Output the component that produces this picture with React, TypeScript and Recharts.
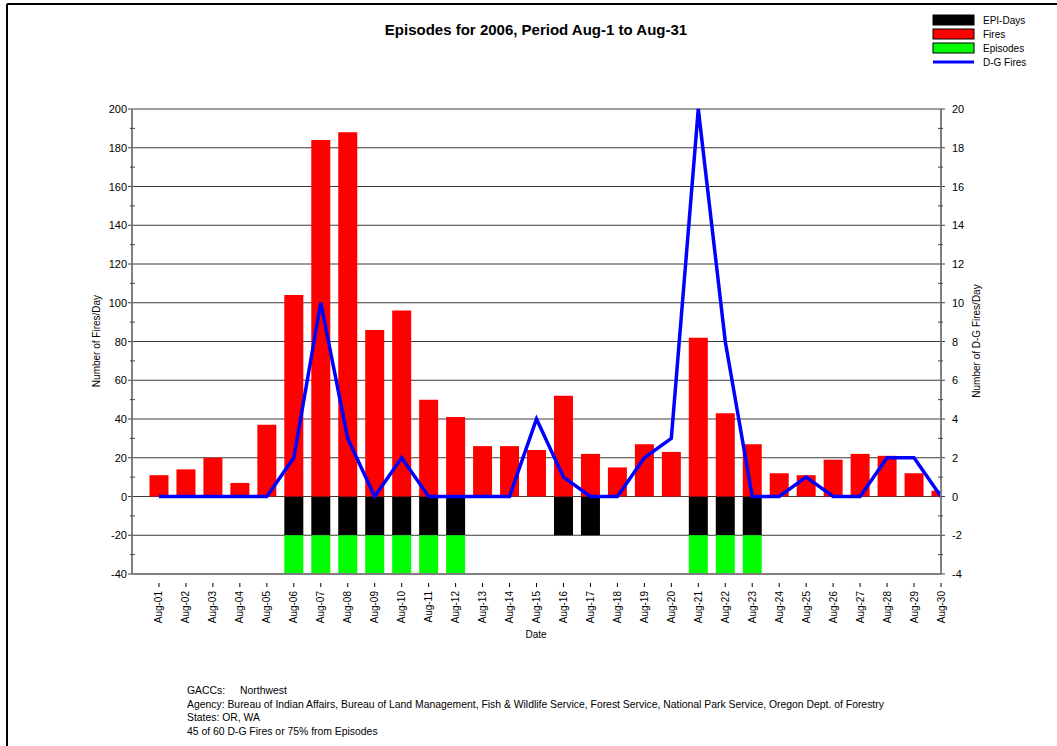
import React from 'react';
import { ComposedChart, Bar, Line, XAxis, YAxis, CartesianGrid } from 'recharts';

const days = [
  'Aug-01', 'Aug-02', 'Aug-03', 'Aug-04', 'Aug-05', 'Aug-06', 'Aug-07', 'Aug-08', 'Aug-09', 'Aug-10',
  'Aug-11', 'Aug-12', 'Aug-13', 'Aug-14', 'Aug-15', 'Aug-16', 'Aug-17', 'Aug-18', 'Aug-19', 'Aug-20',
  'Aug-21', 'Aug-22', 'Aug-23', 'Aug-24', 'Aug-25', 'Aug-26', 'Aug-27', 'Aug-28', 'Aug-29', 'Aug-30',
];
const fires = [11, 14, 20, 7, 37, 104, 184, 188, 86, 96, 50, 41, 26, 26, 24, 52, 22, 15, 27, 23, 82, 43, 27, 12, 11, 19, 22, 21, 12, 3];
const dgFires = [0, 0, 0, 0, 0, 2, 10, 3, 0, 2, 0, 0, 0, 0, 4, 1, 0, 0, 2, 3, 20, 8, 0, 0, 1, 0, 0, 2, 2, 0];
const epiDays = [null, null, null, null, null, -20, -20, -20, -20, -20, -20, -20, null, null, null, -20, -20, null, null, null, -20, -20, -20, null, null, null, null, null, null, null];
const episodes = [null, null, null, null, null, -20, -20, -20, -20, -20, -20, -20, null, null, null, null, null, null, null, null, -20, -20, -20, null, null, null, null, null, null, null];

const leftTicks = [-40, -30, -20, -10, 0, 10, 20, 30, 40, 50, 60, 70, 80, 90, 100, 110, 120, 130, 140, 150, 160, 170, 180, 190, 200];
const rightTicks = [-4, -3, -2, -1, 0, 1, 2, 3, 4, 5, 6, 7, 8, 9, 10, 11, 12, 13, 14, 15, 16, 17, 18, 19, 20];
const gridValues = [-20, 0, 20, 40, 60, 80, 100, 120, 140, 160, 180, 200];
const xTicks = days.map((_, i) => i + 1);

const data = days.map((d, i) => ({
  x: i + 1,
  label: d,
  fires: fires[i],
  dg: dgFires[i],
  epi: epiDays[i],
  episodes: episodes[i],
}));

const FONT = '"Liberation Sans", Arial, sans-serif';
const AXIS = '#808080';

const LeftTick = (props: any) => {
  const { x, y, payload } = props;
  const v = payload.value;
  const major = v % 20 === 0;
  return (
    <g>
      {major ? (
        <line x1={x - 4} x2={x} y1={y} y2={y} stroke="#444" strokeWidth={1} />
      ) : (
        <line x1={x - 2} x2={x + 3} y1={y} y2={y} stroke="#444" strokeWidth={1} />
      )}
      {major && (
        <text x={x - 5} y={y} dy={4} textAnchor="end" fontSize={11} fill="#000" fontFamily={FONT}>
          {v}
        </text>
      )}
    </g>
  );
};

const RightTick = (props: any) => {
  const { x, y, payload } = props;
  const v = payload.value;
  const major = v % 2 === 0;
  return (
    <g>
      {major ? (
        <line x1={x} x2={x + 4} y1={y} y2={y} stroke="#444" strokeWidth={1} />
      ) : (
        <line x1={x - 3} x2={x + 2} y1={y} y2={y} stroke="#444" strokeWidth={1} />
      )}
      {major && (
        <text x={x + 11} y={y} dy={4} textAnchor="start" fontSize={11} fill="#000" fontFamily={FONT}>
          {v}
        </text>
      )}
    </g>
  );
};

const BottomTick = (props: any) => {
  const { x, y, payload } = props;
  const label = days[payload.value - 1] ?? '';
  return (
    <g>
      <line x1={x} x2={x} y1={y + 9} y2={y + 13} stroke="#000" strokeWidth={1} />
      <text
        transform={`translate(${x},${y + 17}) rotate(-90)`}
        dy={3.5}
        textAnchor="end"
        fontSize={10}
        fill="#000"
        fontFamily={FONT}
      >
        {label}
      </text>
    </g>
  );
};

const legendItems = [
  { name: 'EPI-Days', color: '#000000', kind: 'rect' },
  { name: 'Fires', color: '#FF0000', kind: 'rect' },
  { name: 'Episodes', color: '#00FF00', kind: 'rect' },
  { name: 'D-G Fires', color: '#0000FF', kind: 'line' },
];

export default function App() {
  return (
    <div style={{ position: 'absolute', left: 0, top: 0, width: 1057, height: 746, background: '#fff' }}>
      <ComposedChart
        width={1057}
        height={746}
        data={data}
        stackOffset="sign"
        margin={{ top: 109, right: 76, bottom: 112, left: 92 }}
      >
        <CartesianGrid
          yAxisId="left"
          vertical={false}
          horizontalValues={gridValues}
          stroke="#3a3a3a"
          strokeWidth={1}
        />
        <XAxis
          dataKey="x"
          type="number"
          domain={[0, 30]}
          ticks={xTicks}
          interval={0}
          allowDataOverflow
          height={60}
          tickSize={0}
          tickMargin={0}
          tickLine={false}
          tick={<BottomTick />}
          axisLine={{ stroke: AXIS, strokeWidth: 2 }}
        />
        <YAxis
          yAxisId="left"
          orientation="left"
          domain={[-40, 200]}
          ticks={leftTicks}
          interval={0}
          width={40}
          tickSize={0}
          tickMargin={0}
          tickLine={false}
          tick={<LeftTick />}
          axisLine={{ stroke: AXIS, strokeWidth: 2 }}
        />
        <YAxis
          yAxisId="right"
          orientation="right"
          domain={[-4, 20]}
          ticks={rightTicks}
          interval={0}
          width={40}
          tickSize={0}
          tickMargin={0}
          tickLine={false}
          tick={<RightTick />}
          axisLine={{ stroke: AXIS, strokeWidth: 2 }}
        />
        <Bar dataKey="epi" name="EPI-Days" yAxisId="left" stackId="s" fill="#000000" barSize={19} isAnimationActive={false} />
        <Bar dataKey="fires" name="Fires" yAxisId="left" stackId="s" fill="#FF0000" barSize={19} isAnimationActive={false} />
        <Bar dataKey="episodes" name="Episodes" yAxisId="left" stackId="s" fill="#00FF00" barSize={19} isAnimationActive={false} />
        <Line
          dataKey="dg"
          name="D-G Fires"
          yAxisId="right"
          type="linear"
          stroke="#0000FF"
          strokeWidth={3.5}
          dot={false}
          activeDot={false}
          isAnimationActive={false}
        />
      </ComposedChart>
      <svg
        width={1057}
        height={746}
        style={{ position: 'absolute', left: 0, top: 0, pointerEvents: 'none' }}
        fontFamily={FONT}
      >
        <line x1={7} x2={1057} y1={4} y2={4} stroke="#000" strokeWidth={2} />
        <line x1={7} x2={7} y1={4} y2={746} stroke="#000" strokeWidth={2} />
        <text x={536} y={35} textAnchor="middle" fontSize={15} fontWeight="bold" fill="#000">
          Episodes for 2006, Period Aug-1 to Aug-31
        </text>
        {legendItems.map((it, i) => {
          const top = 15 + i * 14;
          return (
            <g key={it.name}>
              {it.kind === 'rect' ? (
                <rect x={933} y={top} width={41} height={10} fill={it.color} stroke="#000" strokeWidth={1} />
              ) : (
                <line x1={933} x2={974} y1={top + 5} y2={top + 5} stroke={it.color} strokeWidth={3} />
              )}
              <text x={983} y={top + 9} fontSize={10} fill="#000">
                {it.name}
              </text>
            </g>
          );
        })}
        <text transform="translate(100,341) rotate(-90)" textAnchor="middle" fontSize={10} fill="#000">
          Number of Fires/Day
        </text>
        <text transform="translate(980,341) rotate(-90)" textAnchor="middle" fontSize={10} fill="#000">
          Number of D-G Fires/Day
        </text>
        <text x={536} y={638} textAnchor="middle" fontSize={10} fill="#000">
          Date
        </text>
        <text x={187} y={694} fontSize={10.4} fill="#000">GACCs:</text>
        <text x={240} y={694} fontSize={10.4} fill="#000">Northwest</text>
        <text x={187} y={707.5} fontSize={10.4} fill="#000">
          Agency: Bureau of Indian Affairs, Bureau of Land Management, Fish &amp; Wildlife Service, Forest Service, National Park Service, Oregon Dept. of Forestry
        </text>
        <text x={187} y={721} fontSize={10.4} fill="#000">States: OR, WA</text>
        <text x={187} y={734.5} fontSize={10.4} fill="#000">45 of 60 D-G Fires or 75% from Episodes</text>
      </svg>
    </div>
  );
}
